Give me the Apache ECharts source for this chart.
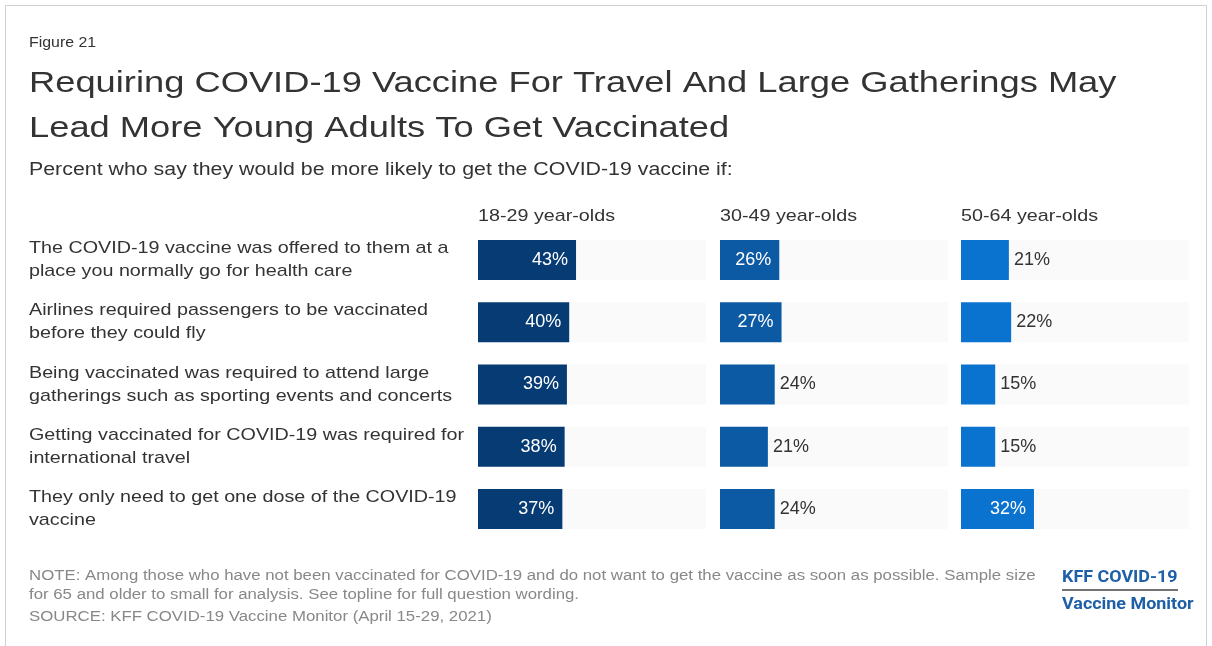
<!DOCTYPE html>
<html><head><meta charset="utf-8">
<script src="https://cdn.jsdelivr.net/npm/echarts@6/dist/echarts.min.js"></script>
<style>html,body{margin:0;padding:0;background:#fff}#c{width:1212px;height:646px}</style>
</head><body><div id="c"></div>
<script>
const categories = [
  "The COVID-19 vaccine was offered to them at a\nplace you normally go for health care",
  "Airlines required passengers to be vaccinated\nbefore they could fly",
  "Being vaccinated was required to attend large\ngatherings such as sporting events and concerts",
  "Getting vaccinated for COVID-19 was required for\ninternational travel",
  "They only need to get one dose of the COVID-19\nvaccine"
];
const groupNames = ["18-29 year-olds", "30-49 year-olds", "50-64 year-olds"];
const age18_29 = [43, 40, 39, 38, 37];
const age30_49 = [26, 27, 24, 21, 24];
const age50_64 = [21, 22, 15, 15, 32];

const FONT = "'Liberation Sans', Arial, sans-serif";
const colors = ["#073b73", "#0b5aa3", "#0a72cf"];
const groups = [age18_29, age30_49, age50_64];
const gridLefts = [478, 720, 961];

const grids = [], xAxes = [], yAxes = [], series = [];
groups.forEach((vals, i) => {
  grids.push({left: gridLefts[i], width: 228, top: 229, height: 311});
  xAxes.push({type: 'value', gridIndex: i, min: 0, max: 100, show: false});
  yAxes.push({
    type: 'category', gridIndex: i, data: categories, inverse: true,
    axisLine: {show: false}, axisTick: {show: false}, axisLabel: {show: false}
  });
  series.push({
    type: 'bar', xAxisIndex: i, yAxisIndex: i, barWidth: 40,
    showBackground: true, backgroundStyle: {color: '#fafafa'},
    itemStyle: {color: colors[i]},
    data: vals.map(v => ({
      value: v,
      label: v >= 25
        ? {show: true, position: 'insideRight', distance: 8, color: '#fff', fontSize: 18, fontFamily: FONT, formatter: '{c}%'}
        : {show: true, position: 'right', distance: 5, color: '#333', fontSize: 18, fontFamily: FONT, formatter: '{c}%'}
    })),
    animation: false
  });
});

function txt(x, y, text, font, sx, fill, lh) {
  return {type: 'text', x: x, y: y, scaleX: sx, silent: true,
    style: {x: 0, y: 0, text: text, font: font, fill: fill, lineHeight: lh, verticalAlign: 'top', align: 'left'}};
}

const chart = echarts.init(document.getElementById('c'));
chart.setOption({
  backgroundColor: '#fff',
  animation: false,
  grid: grids, xAxis: xAxes, yAxis: yAxes, series: series
});

// category labels placed at the category positions given by the y axis scale
const catLabels = categories.map((c, k) => {
  const y = chart.convertToPixel({yAxisIndex: 0}, k);
  return {type: 'text', x: 29, y: y, scaleX: 1.16, silent: true,
    style: {x: 0, y: 0, text: c, font: '17px ' + FONT, fill: '#333', lineHeight: 23, verticalAlign: 'middle', align: 'left'}};
});

chart.setOption({
  graphic: [
    {type: 'rect', shape: {x: 5.5, y: 5.5, width: 1201, height: 646}, style: {fill: 'none', stroke: '#d0d0d0', lineWidth: 1}},
    txt(29, 35, 'Figure 21', '15px ' + FONT, 1.06, '#333'),
    txt(29, 61, 'Requiring COVID-19 Vaccine For Travel And Large Gatherings May\nLead More Young Adults To Get Vaccinated', '30px ' + FONT, 1.21, '#333', 45),
    txt(29, 161, 'Percent who say they would be more likely to get the COVID-19 vaccine if:', '17.5px ' + FONT, 1.22, '#333'),
    ...groupNames.map((g, i) => txt(gridLefts[i], 208, g, '17px ' + FONT, 1.16, '#333')),
    ...catLabels,
    txt(29, 567, 'NOTE: Among those who have not been vaccinated for COVID-19 and do not want to get the vaccine as soon as possible. Sample size\nfor 65 and older to small for analysis. See topline for full question wording.', '14px ' + FONT, 1.2, '#888', 19),
    txt(29, 610, 'SOURCE: KFF COVID-19 Vaccine Monitor (April 15-29, 2021)', '14px ' + FONT, 1.2, '#888'),
    txt(1062, 570, 'KFF COVID-19', 'bold 16px Roboto, sans-serif', 1.12, '#1f5fa8'),
    {type: 'line', shape: {x1: 1062, y1: 590, x2: 1178, y2: 590}, style: {stroke: '#444', lineWidth: 1.5}},
    txt(1062, 597, 'Vaccine Monitor', 'bold 16px Roboto, sans-serif', 1.12, '#1f5fa8')
  ]
});
</script></body></html>
